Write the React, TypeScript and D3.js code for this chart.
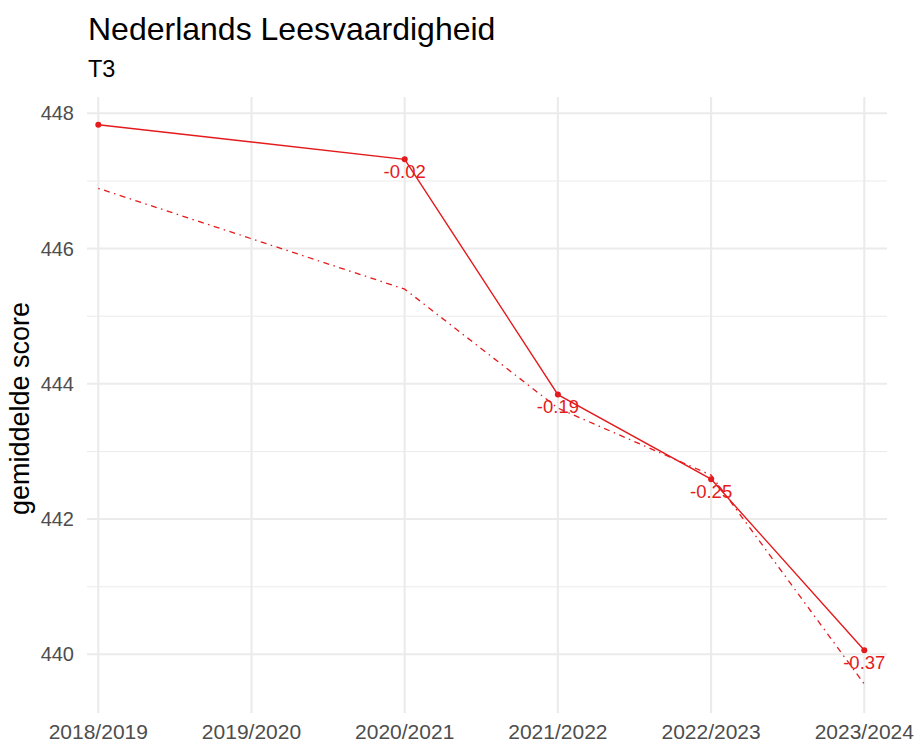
import * as React from "react";
import { scaleLinear, scalePoint, line } from "d3";

const schoolYears = ["2018/2019", "2019/2020", "2020/2021", "2021/2022", "2022/2023", "2023/2024"];

// observed mean score (no measurement in 2019/2020)
const scoreYears = ["2018/2019", "2020/2021", "2021/2022", "2022/2023", "2023/2024"];
const scoreValues = [447.83, 447.32, 443.84, 442.59, 440.06];
const effectLabels = ["", "-0.02", "-0.19", "-0.25", "-0.37"];

// reference trend (dot-dash)
const refValues = [446.89, 445.4, 443.64, 442.65, 439.56];

const yTicks = [440, 442, 444, 446, 448];
const yMinor = [441, 443, 445, 447];

const RED = "#E41A1C";
const GRID = "#EBEBEB";
const FONT = "Liberation Sans, Arial, sans-serif";

export default function App() {
  const W = 915;
  const H = 742;
  const panel = { left: 87, right: 887, top: 97, bottom: 713 };

  const x = scalePoint<string>().domain(schoolYears).range([98.3, 864.3]);
  const y = scaleLinear().domain([440, 448]).range([654.3, 113.3]);

  const pts = scoreYears.map((yr, i) => ({ yr, v: scoreValues[i], ref: refValues[i], lab: effectLabels[i] }));

  const solid = line<(typeof pts)[number]>()
    .x((d) => x(d.yr)!)
    .y((d) => y(d.v));
  const dashed = line<(typeof pts)[number]>()
    .x((d) => x(d.yr)!)
    .y((d) => y(d.ref));

  return (
    <svg width={W} height={H} style={{ position: "absolute", left: 0, top: 0 }} fontFamily={FONT}>
      <rect width={W} height={H} fill="#fff" />
      {/* grid */}
      {yMinor.map((t) => (
        <line key={`mn-${t}`} x1={panel.left} x2={panel.right} y1={y(t)} y2={y(t)} stroke={GRID} strokeWidth={1.1} />
      ))}
      {yTicks.map((t) => (
        <line key={`mj-${t}`} x1={panel.left} x2={panel.right} y1={y(t)} y2={y(t)} stroke={GRID} strokeWidth={2.1} />
      ))}
      {schoolYears.map((s) => (
        <line key={`v-${s}`} x1={x(s)} x2={x(s)} y1={panel.top} y2={panel.bottom} stroke={GRID} strokeWidth={2.1} />
      ))}

      {/* y axis */}
      {yTicks.map((t) => (
        <text key={`yt-${t}`} x={74} y={y(t)} textAnchor="end" dominantBaseline="central" fontSize={20} fill="#4D4D4D">
          {t}
        </text>
      ))}
      <text transform={`translate(29,408.5) rotate(-90)`} textAnchor="middle" fontSize={27} fill="#000">
        gemiddelde score
      </text>

      {/* x axis */}
      {schoolYears.map((s) => (
        <text key={`xt-${s}`} x={x(s)} y={739} textAnchor="middle" fontSize={21} fill="#4D4D4D">
          {s}
        </text>
      ))}

      {/* lines */}
      <path d={dashed(pts) ?? ""} fill="none" stroke={RED} strokeWidth={1.3} strokeDasharray="1.5,4.5,6,4.5" />
      <path d={solid(pts) ?? ""} fill="none" stroke={RED} strokeWidth={1.4} />
      {pts.map((d) => (
        <circle key={`p-${d.yr}`} cx={x(d.yr)} cy={y(d.v)} r={3} fill={RED} />
      ))}
      {pts.map((d) =>
        d.lab ? (
          <text key={`l-${d.yr}`} x={x(d.yr)} y={y(d.v) + 12} textAnchor="middle" dominantBaseline="central" fontSize={18.5} fill={RED}>
            {d.lab}
          </text>
        ) : null
      )}

      {/* titles */}
      <text x={88} y={39.5} fontSize={32} fill="#000">
        Nederlands Leesvaardigheid
      </text>
      <text x={88} y={77} fontSize={23.5} fill="#000">
        T3
      </text>
    </svg>
  );
}
